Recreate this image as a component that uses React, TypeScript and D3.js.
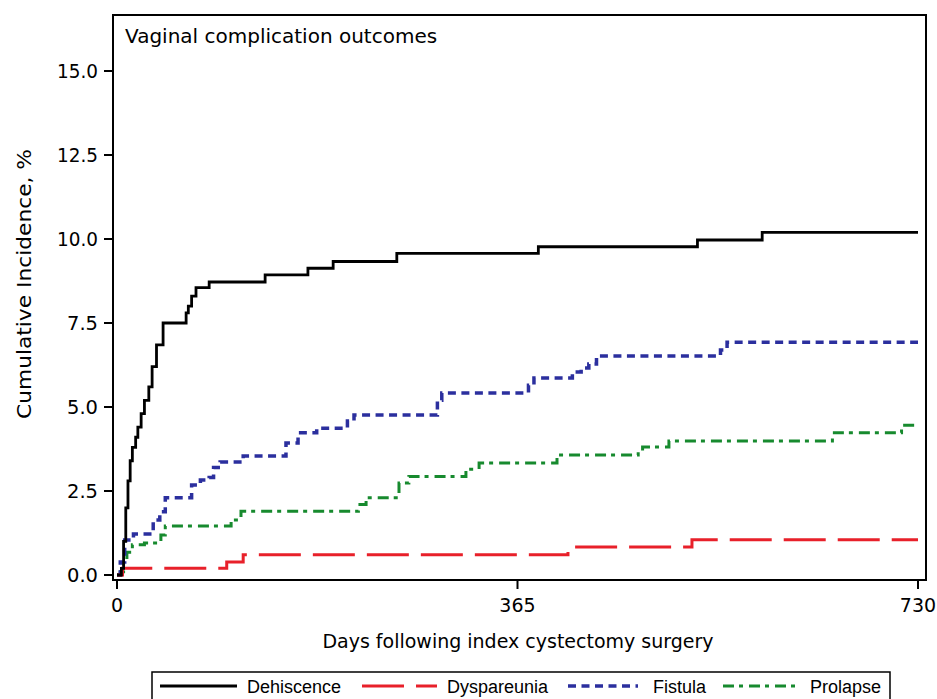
import * as d3 from 'd3'
import React, { useEffect, useRef } from 'react'

// days since surgery / cumulative incidence (%)
const dehiscenceDays = [0, 4, 6, 8, 10, 12, 14, 17, 19, 22, 25, 29, 32, 36, 42, 63, 65, 68, 72, 84, 135, 174, 197, 255, 384, 529, 588, 730]
const dehiscenceValues = [0, 0.2, 1.0, 2.0, 2.8, 3.4, 3.8, 4.1, 4.4, 4.8, 5.2, 5.6, 6.2, 6.85, 7.5, 7.8, 8.0, 8.3, 8.55, 8.72, 8.93, 9.13, 9.33, 9.57, 9.77, 9.97, 10.2, 10.2]

const dyspareuniaDays = [0, 5, 100, 115, 411, 524, 730]
const dyspareuniaValues = [0, 0.2, 0.39, 0.6, 0.83, 1.05, 1.05]

const fistulaDays = [0, 3, 7, 15, 33, 39, 44, 68, 76, 84, 88, 94, 115, 154, 165, 182, 210, 216, 292, 296, 375, 380, 415, 423, 430, 437, 550, 556, 730]
const fistulaValues = [0, 0.39, 1.04, 1.22, 1.64, 1.88, 2.3, 2.68, 2.83, 2.9, 3.2, 3.36, 3.54, 3.93, 4.23, 4.37, 4.58, 4.76, 5.2, 5.42, 5.65, 5.86, 6.04, 6.16, 6.28, 6.52, 6.7, 6.93, 6.93]

const prolapseDays = [0, 3, 6, 9, 14, 25, 40, 44, 104, 113, 220, 227, 257, 266, 318, 330, 401, 475, 479, 503, 652, 715, 730]
const prolapseValues = [0, 0.1, 0.4, 0.68, 0.9, 0.95, 1.19, 1.46, 1.64, 1.9, 2.1, 2.3, 2.74, 2.93, 3.15, 3.33, 3.57, 3.7, 3.81, 3.99, 4.23, 4.46, 4.46]

const yTicks = [0, 2.5, 5, 7.5, 10, 12.5, 15]
const xTicks = [0, 365, 730]

const series = [
    { name: 'Dehiscence', days: dehiscenceDays, values: dehiscenceValues, color: '#000000', width: 2.8, dash: null },
    { name: 'Dyspareunia', days: dyspareuniaDays, values: dyspareuniaValues, color: '#e8202a', width: 3, dash: '42,12' },
    { name: 'Fistula', days: fistulaDays, values: fistulaValues, color: '#2b2f9e', width: 3.5, dash: '8,5.5' },
    { name: 'Prolapse', days: prolapseDays, values: prolapseValues, color: '#178a2e', width: 3, dash: '11,5,4,6' },
]

export default function App() {
    const ref = useRef<SVGSVGElement>(null)

    useEffect(() => {
        const svg = d3.select(ref.current)
        svg.selectAll('*').remove()

        const x = d3.scaleLinear().domain([0, 730]).range([117, 918])
        const y = d3.scaleLinear().domain([0, 15]).range([575, 71])

        // frame
        svg.append('rect')
            .attr('x', 113).attr('y', 15).attr('width', 813).attr('height', 565)
            .attr('fill', 'none').attr('stroke', 'black').attr('stroke-width', 2)

        // y axis
        const yAxis = svg.append('g')
            .attr('font-family', 'DejaVu Sans')
            .attr('font-size', 19)
        yTicks.forEach(t => {
            yAxis.append('line')
                .attr('x1', 104).attr('x2', 113)
                .attr('y1', y(t)).attr('y2', y(t))
                .attr('stroke', 'black').attr('stroke-width', 2)
            yAxis.append('text')
                .attr('x', 98).attr('y', y(t))
                .attr('dy', '0.36em')
                .attr('text-anchor', 'end')
                .attr('textLength', t >= 10 ? 41 : 31)
                .attr('lengthAdjust', 'spacingAndGlyphs')
                .text(d3.format('.1f')(t))
        })

        // x axis
        const xAxis = svg.append('g')
            .attr('font-family', 'DejaVu Sans')
            .attr('font-size', 19)
        xTicks.forEach(t => {
            xAxis.append('line')
                .attr('x1', x(t)).attr('x2', x(t))
                .attr('y1', 580).attr('y2', 589)
                .attr('stroke', 'black').attr('stroke-width', 2)
            xAxis.append('text')
                .attr('x', x(t)).attr('y', 612)
                .attr('text-anchor', 'middle')
                .text(t)
        })

        svg.append('text')
            .attr('x', 518).attr('y', 648)
            .attr('text-anchor', 'middle')
            .attr('font-family', 'DejaVu Sans')
            .attr('font-size', 19)
            .text('Days following index cystectomy surgery')

        svg.append('text')
            .attr('transform', 'translate(31,284) rotate(-90)')
            .attr('text-anchor', 'middle')
            .attr('font-family', 'DejaVu Sans')
            .attr('font-size', 19)
            .attr('textLength', 270)
            .attr('lengthAdjust', 'spacingAndGlyphs')
            .text('Cumulative Incidence, %')

        svg.append('text')
            .attr('x', 125).attr('y', 43)
            .attr('font-family', 'DejaVu Sans')
            .attr('font-size', 20)
            .text('Vaginal complication outcomes')

        // step curves
        const line = d3.line<[number, number]>()
            .x(d => x(d[0]))
            .y(d => y(d[1]))
            .curve(d3.curveStepAfter)

        const curves = svg.append('g').attr('fill', 'none')
        series.slice().reverse().forEach(s => {
            const pts = s.days.map((d, i) => [d, s.values[i]] as [number, number])
            curves.append('path')
                .attr('d', line(pts))
                .attr('stroke', s.color)
                .attr('stroke-width', s.width)
                .attr('stroke-dasharray', s.dash)
        })

        // legend
        const legend = svg.append('g')
            .attr('font-family', 'Liberation Sans')
            .attr('font-size', 18)
        legend.append('rect')
            .attr('x', 152).attr('y', 672).attr('width', 738).attr('height', 40)
            .attr('fill', 'white').attr('stroke', 'black').attr('stroke-width', 1.5)
        const legendLines = [[160, 237], [362, 437], [568, 638], [723, 797]]
        const legendText = [247, 447, 653, 810]
        series.forEach((s, i) => {
            legend.append('line')
                .attr('x1', legendLines[i][0]).attr('x2', legendLines[i][1])
                .attr('y1', 686).attr('y2', 686)
                .attr('stroke', s.color)
                .attr('stroke-width', s.width)
                .attr('stroke-dasharray', s.dash)
            legend.append('text')
                .attr('x', legendText[i]).attr('y', 693)
                .text(s.name)
        })
    }, [])

    return (
        <svg ref={ref} width={937} height={699}
            style={{ position: 'absolute', left: 0, top: 0, background: 'white' }} />
    )
}
